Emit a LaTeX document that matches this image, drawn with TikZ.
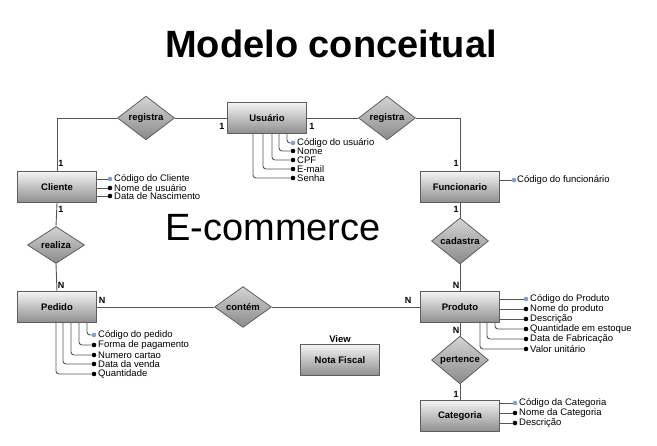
\documentclass[tikz,border=0pt]{standalone}
\usepackage{fontspec}
\setmainfont{Liberation Sans}
\usepackage{xcolor}
\usepackage{tikz}
\usetikzlibrary{shapes.geometric,calc}
\definecolor{BoxTop}{HTML}{F4F4F4}
\definecolor{BoxBottom}{HTML}{8E8E8E}
\definecolor{DiaTop}{HTML}{D4D4D4}
\definecolor{DiaBottom}{HTML}{8A8A8A}
\definecolor{EdgeGray}{HTML}{5E5E5E}
\definecolor{LineGray}{HTML}{555555}
\definecolor{KeyBlue}{HTML}{7F9FD6}
\newcommand{\attfont}{\fontsize{9.5}{10}\selectfont}

\begin{document}
\begin{tikzpicture}[x=1pt,y=-1pt]
  \tikzset{
    entidade/.style={draw=EdgeGray,line width=1.3pt,top color=BoxTop,bottom color=BoxBottom,
      minimum width=79pt,minimum height=31pt,inner sep=0pt,font=\bfseries\fontsize{9.5}{11}\selectfont},
    relacao/.style={diamond,draw=EdgeGray,line width=0.8pt,top color=DiaTop,bottom color=DiaBottom,
      inner sep=0pt,minimum width=57pt,minimum height=37pt,font=\bfseries\fontsize{9.5}{11}\selectfont},
    card/.style={font=\bfseries\fontsize{9}{10}\selectfont,inner sep=0pt},
    atrib/.style={font=\attfont,anchor=west,inner sep=0pt},
    ponto/.style={circle,fill=black,inner sep=0pt,minimum size=4.6pt},
    chave/.style={ponto,fill=KeyBlue},
    linha/.style={draw=LineGray,line width=0.9pt},
    galho/.style={linha,rounded corners=3pt}
  }
  \useasboundingbox (0,0) rectangle (657,446);

  % titles
  \node[font=\bfseries\fontsize{38}{40}\selectfont] (titulo) at (331,44) {Modelo conceitual};
  \node[font=\fontsize{38}{40}\selectfont] (sistema) at (273,228) {E-commerce};

  % entities
  \node[entidade] (usuario) at (267,118) {Usuário};
  \node[entidade] (cliente) at (57,187) {Cliente};
  \node[entidade] (func) at (460,187) {Funcionario};
  \node[entidade] (pedido) at (57,307) {Pedido};
  \node[entidade] (produto) at (460,307) {Produto};
  \node[entidade] (categoria) at (460,416) {Categoria};
  \node[entidade] (nota) at (340,360) {Nota Fiscal};
  \node[card,font=\bfseries\fontsize{9.5}{11}\selectfont] (view) at (340,339) {View};

  % relationships
  \node[relacao] (regA) at (146,118) {registra};
  \node[relacao] (regB) at (387,118) {registra};
  \node[relacao] (realiza) at (56,245) {realiza};
  \node[relacao] (cadastra) at (460,241) {cadastra};
  \node[relacao] (contem) at (243,307) {contém};
  \node[relacao] (pertence) at (460,360) {pertence};

  % connectors
  \draw[linha] (cliente.north) |- (regA.west);
  \draw[linha] (regA.east) -- (usuario.west);
  \draw[linha] (usuario.east) -- (regB.west);
  \draw[linha] (regB.east) -| (func.north);
  \draw[linha] (cliente.south) -- (realiza.north);
  \draw[linha] (realiza.south) -- (pedido.north);
  \draw[linha] (func.south) -- (cadastra.north);
  \draw[linha] (cadastra.south) -- (produto.north);
  \draw[linha] (pedido.east) -- (contem.west);
  \draw[linha] (contem.east) -- (produto.west);
  \draw[linha] (produto.south) -- (pertence.north);
  \draw[linha] (pertence.south) -- (categoria.north);

  % cardinalities
  \node[card] (c1) at (222,126) {1};
  \node[card] (c2) at (312,126) {1};
  \node[card] (c3) at (61,163) {1};
  \node[card] (c4) at (456,163) {1};
  \node[card] (c5) at (61,209) {1};
  \node[card] (c6) at (456,209) {1};
  \node[card] (c7) at (61,285) {N};
  \node[card] (c8) at (456,285) {N};
  \node[card] (c9) at (102,300) {N};
  \node[card] (c10) at (408,300) {N};
  \node[card] (c11) at (456,330) {N};
  \node[card] (c12) at (456,394) {1};

  % attributes of Usuario
  \node[chave] (u1) at (293,143) {};
  \node[ponto] (u2) at (293,151) {};
  \node[ponto] (u3) at (293,160) {};
  \node[ponto] (u4) at (293,169) {};
  \node[ponto] (u5) at (293,178) {};
  \draw[galho] ([xshift=20pt]usuario.south) |- (u1);
  \draw[galho] ([xshift=12pt]usuario.south) |- (u2);
  \draw[galho] ([xshift=5pt]usuario.south) |- (u3);
  \draw[galho] ([xshift=-4pt]usuario.south) |- (u4);
  \draw[galho] ([xshift=-14pt]usuario.south) |- (u5);
  \node[atrib] at (297,143) {Código do usuário};
  \node[atrib] at (297,151) {Nome};
  \node[atrib] at (297,160) {CPF};
  \node[atrib] at (297,169) {E-mail};
  \node[atrib] at (297,178) {Senha};

  % attributes of Cliente
  \node[chave] (cl1) at (110,179) {};
  \node[ponto] (cl2) at (110,188) {};
  \node[ponto] (cl3) at (110,196) {};
  \draw[linha] (cliente.east |- cl1) -- (cl1);
  \draw[linha] (cliente.east |- cl2) -- (cl2);
  \draw[linha] (cliente.east |- cl3) -- (cl3);
  \node[atrib] at (114,179) {Código do Cliente};
  \node[atrib] at (114,188) {Nome de usuário};
  \node[atrib] at (114,196) {Data de Nascimento};

  % attribute of Funcionario
  \node[chave] (f1) at (514,180) {};
  \draw[linha] (func.east |- f1) -- (f1);
  \node[atrib] at (517,180) {Código do funcionário};

  % attributes of Pedido
  \node[chave] (p1) at (94,335) {};
  \node[ponto] (p2) at (94,345) {};
  \node[ponto] (p3) at (94,355) {};
  \node[ponto] (p4) at (94,364) {};
  \node[ponto] (p5) at (94,374) {};
  \draw[galho] ([xshift=30pt]pedido.south) |- (p1);
  \draw[galho] ([xshift=22pt]pedido.south) |- (p2);
  \draw[galho] ([xshift=14pt]pedido.south) |- (p3);
  \draw[galho] ([xshift=6pt]pedido.south) |- (p4);
  \draw[galho] ([xshift=-1pt]pedido.south) |- (p5);
  \node[atrib] at (98,335) {Código do pedido};
  \node[atrib] at (98,345) {Forma de pagamento};
  \node[atrib] at (98,355) {Numero cartao};
  \node[atrib] at (98,364) {Data da venda};
  \node[atrib] at (98,374) {Quantidade};

  % attributes of Produto
  \node[chave] (pr1) at (526,299) {};
  \node[ponto] (pr2) at (526,309) {};
  \node[ponto] (pr3) at (526,319) {};
  \node[ponto] (pr4) at (526,329) {};
  \node[ponto] (pr5) at (526,339) {};
  \node[ponto] (pr6) at (526,349) {};
  \draw[linha] (produto.east |- pr1) -- (pr1);
  \draw[linha] (produto.east |- pr2) -- (pr2);
  \draw[linha] (produto.east |- pr3) -- (pr3);
  \draw[galho] ([xshift=35pt]produto.south) |- (pr4);
  \draw[galho] ([xshift=27pt]produto.south) |- (pr5);
  \draw[galho] ([xshift=20pt]produto.south) |- (pr6);
  \node[atrib] at (530,299) {Código do Produto};
  \node[atrib] at (530,309) {Nome do produto};
  \node[atrib] at (530,319) {Descrição};
  \node[atrib] at (530,329) {Quantidade em estoque};
  \node[atrib] at (530,339) {Data de Fabricação};
  \node[atrib] at (530,349) {Valor unitário};

  % attributes of Categoria
  \node[chave] (ca1) at (515,403) {};
  \node[ponto] (ca2) at (515,413) {};
  \node[ponto] (ca3) at (515,423) {};
  \draw[linha] (categoria.east |- ca1) -- (ca1);
  \draw[linha] (categoria.east |- ca2) -- (ca2);
  \draw[linha] (categoria.east |- ca3) -- (ca3);
  \node[atrib] at (519,403) {Código da Categoria};
  \node[atrib] at (519,413) {Nome da Categoria};
  \node[atrib] at (519,423) {Descrição};
\end{tikzpicture}
\end{document}
